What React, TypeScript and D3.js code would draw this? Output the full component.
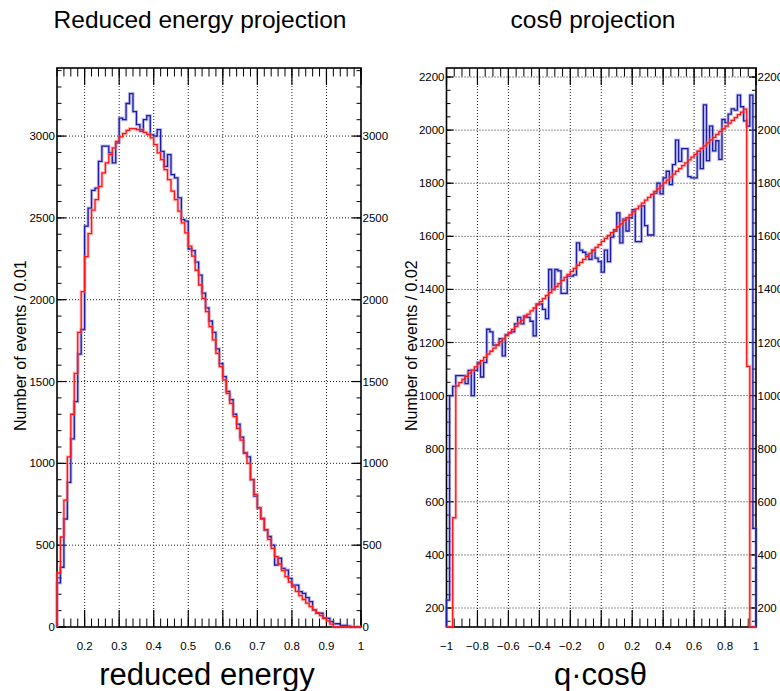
import React from 'react';
import * as d3 from 'd3';

const W = 780;
const H = 691;
const FONT = "'Liberation Sans', Arial, Helvetica, sans-serif";

// ---------- Left panel: reduced energy ----------
const energyMin = 0.12;
const energyMax = 1.0;
const energyBinWidth = 0.01;
const energyYMax = 3416;
const energyData = [
  270, 365, 660, 884, 1150, 1377, 1668, 1818, 2450, 2560,
  2668, 2682, 2846, 2938, 2938, 2897, 2836, 2958, 3110, 3100,
  3199, 3260, 3150, 3070, 3030, 3100, 3125, 3007, 3000, 3040,
  2907, 2815, 2887, 2765, 2744, 2622, 2490, 2480, 2310, 2300,
  2230, 2150, 2040, 1950, 1870, 1800, 1700, 1610, 1530, 1440,
  1390, 1300, 1240, 1160, 1065, 1040, 900, 800, 727, 664,
  592, 553, 500, 379, 420, 358, 348, 297, 256, 256,
  216, 206, 180, 155, 104, 84, 84, 53, 53, 33,
  20, 20, 10, 10, 5, 0, 0, 0,
];
const energyFit = [
  330, 550, 775, 1040, 1300, 1550, 1800, 2050, 2263, 2404,
  2548, 2612, 2693, 2775, 2836, 2887, 2928, 2968, 2995, 3015,
  3035, 3045, 3045, 3040, 3040, 3023, 3010, 2989, 2948, 2897,
  2856, 2795, 2734, 2663, 2612, 2541, 2470, 2409, 2327, 2266,
  2180, 2090, 2008, 1927, 1835, 1754, 1672, 1591, 1510, 1428,
  1367, 1285, 1214, 1142, 1061, 1000, 900, 810, 730, 660,
  595, 535, 480, 430, 385, 345, 308, 275, 245, 218,
  192, 168, 146, 125, 105, 87, 70, 55, 38, 18,
  0, 0, 0, 0, 0, 0, 0, 0,
];
const energyXTicks = [0.2, 0.3, 0.4, 0.5, 0.6, 0.7, 0.8, 0.9, 1.0];
const energyXTickLabels = ['0.2', '0.3', '0.4', '0.5', '0.6', '0.7', '0.8', '0.9', '1'];
const energyYTicks = [0, 500, 1000, 1500, 2000, 2500, 3000];
const energyYTickLabels = ['0', '500', '1000', '1500', '2000', '2500', '3000'];

// ---------- Right panel: cos theta ----------
const cosMin = -1;
const cosMax = 1;
const cosBinWidth = 0.02;
const cosYMin = 128.4;
const cosYMax = 2234;
const cosData = [
  230, 1000, 1035, 1075, 1075, 1075, 1045, 1095, 1000, 1095,
  1125, 1070, 1125, 1250, 1240, 1190, 1190, 1215, 1150, 1230,
  1235, 1240, 1270, 1295, 1270, 1300, 1295, 1280, 1225, 1345,
  1345, 1325, 1290, 1475, 1400, 1475, 1470, 1385, 1385, 1450,
  1450, 1455, 1575, 1548, 1540, 1530, 1513, 1548, 1518, 1505,
  1465, 1548, 1505, 1597, 1620, 1688, 1575, 1665, 1620, 1670,
  1700, 1580, 1580, 1715, 1640, 1605, 1605, 1763, 1800, 1760,
  1820, 1845, 1795, 1870, 1962, 1882, 1930, 1930, 1825, 1820,
  1820, 1920, 1855, 2095, 1885, 2015, 1922, 1960, 1890, 2040,
  2028, 2060, 2080, 2075, 2132, 2088, 2035, 2015, 2132, 500,
];
const cosFit = [
  0, 0, 540, 1037, 1049, 1061, 1073, 1085, 1096, 1108,
  1120, 1132, 1144, 1156, 1167, 1179, 1191, 1203, 1214, 1226,
  1238, 1249, 1261, 1273, 1284, 1296, 1307, 1319, 1330, 1342,
  1354, 1365, 1377, 1388, 1399, 1411, 1422, 1434, 1445, 1457,
  1468, 1479, 1491, 1502, 1513, 1524, 1536, 1547, 1558, 1569,
  1581, 1592, 1603, 1614, 1625, 1636, 1647, 1659, 1670, 1681,
  1692, 1703, 1714, 1725, 1736, 1747, 1758, 1769, 1779, 1790,
  1801, 1812, 1823, 1834, 1845, 1855, 1866, 1877, 1888, 1898,
  1909, 1920, 1931, 1941, 1952, 1963, 1973, 1984, 1994, 2005,
  2015, 2026, 2037, 2047, 2058, 2068, 2079, 1110, 0, 0,
];
const cosXTicks = [-1, -0.8, -0.6, -0.4, -0.2, 0, 0.2, 0.4, 0.6, 0.8, 1];
const cosXTickLabels = ['\u22121', '\u22120.8', '\u22120.6', '\u22120.4', '\u22120.2', '0', '0.2', '0.4', '0.6', '0.8', '1'];
const cosYTicks = [200, 400, 600, 800, 1000, 1200, 1400, 1600, 1800, 2000, 2200];
const cosYTickLabels = ['200', '400', '600', '800', '1000', '1200', '1400', '1600', '1800', '2000', '2200'];

type PanelProps = {
  x0: number; x1: number; y0: number; y1: number;
  xDomain: [number, number]; yDomain: [number, number];
  xTicks: number[]; xTickLabels: string[]; xMinorStep: number;
  yTicks: number[]; yTickLabels: string[]; yMinorStep: number;
  yMajorLen: number; yMinorLen: number;
  data: number[]; fit: number[]; binMin: number; binWidth: number;
  title: string; titleX: number;
  xTitle: string; xTitleX: number;
  yTitle: string; yTitleX: number;
};

function stepPath(vals: number[], binMin: number, bw: number, x: any, y: any, yBase: number) {
  const pts: [number, number][] = [];
  pts.push([x(binMin), yBase]);
  vals.forEach((v, i) => pts.push([x(binMin + i * bw), y(v)]));
  const xEnd = x(binMin + vals.length * bw);
  pts.push([xEnd, y(vals[vals.length - 1])]);
  pts.push([xEnd, yBase]);
  let d = `M${pts[0][0]},${pts[0][1]}`;
  d += `L${pts[1][0]},${pts[1][1]}`;
  for (let i = 2; i < pts.length - 1; i++) {
    d += `L${pts[i][0]},${pts[i - 1][1]}L${pts[i][0]},${pts[i][1]}`;
  }
  d += `L${pts[pts.length - 1][0]},${pts[pts.length - 1][1]}`;
  return d;
}

function Panel(p: PanelProps) {
  const x = d3.scaleLinear().domain(p.xDomain).range([p.x0, p.x1]);
  const y = d3.scaleLinear().domain(p.yDomain).range([p.y1, p.y0]).clamp(true);
  const eps = 1e-9;
  const xMinor = d3.range(Math.ceil(p.xDomain[0] / p.xMinorStep - eps) * p.xMinorStep, p.xDomain[1] + eps, p.xMinorStep)
    .filter((v) => v >= p.xDomain[0] - eps && v <= p.xDomain[1] + eps);
  const yMinor = d3.range(Math.ceil(p.yDomain[0] / p.yMinorStep - eps) * p.yMinorStep, p.yDomain[1] + eps, p.yMinorStep)
    .filter((v) => v >= p.yDomain[0] - eps && v <= p.yDomain[1] + eps);
  const xMajLen = 17;
  const xMinLen = 8.5;
  const gridX = p.xTicks.filter((v) => x(v) > p.x0 + 2 && x(v) < p.x1 - 2);
  const gridY = p.yTicks.filter((v) => y(v) > p.y0 + 2 && y(v) < p.y1 - 2);
  const base = p.y1;
  const dData = stepPath(p.data, p.binMin, p.binWidth, x, y, base);
  const dFit = stepPath(p.fit, p.binMin, p.binWidth, x, y, base);
  return (
    <g>
      <text x={p.titleX} y={27.5} fontSize={24.5} textAnchor="middle" fontFamily={FONT} fill="#000">{p.title}</text>
      {gridX.map((v, i) => (
        <line key={'gx' + i} x1={x(v)} x2={x(v)} y1={p.y0} y2={p.y1} stroke="#222" strokeWidth={1} strokeDasharray="1 2" />
      ))}
      {gridY.map((v, i) => (
        <line key={'gy' + i} x1={p.x0} x2={p.x1} y1={y(v)} y2={y(v)} stroke="#222" strokeWidth={1} strokeDasharray="1 2" />
      ))}
      <rect x={p.x0} y={p.y0} width={p.x1 - p.x0} height={p.y1 - p.y0} fill="none" stroke="#000" strokeWidth={1.6} />
      {xMinor.map((v, i) => (
        <g key={'xm' + i}>
          <line x1={x(v)} x2={x(v)} y1={p.y1} y2={p.y1 - xMinLen} stroke="#000" strokeWidth={1} />
          <line x1={x(v)} x2={x(v)} y1={p.y0} y2={p.y0 + xMinLen} stroke="#000" strokeWidth={1} />
        </g>
      ))}
      {p.xTicks.map((v, i) => (
        <g key={'xM' + i}>
          <line x1={x(v)} x2={x(v)} y1={p.y1} y2={p.y1 - xMajLen} stroke="#000" strokeWidth={1.2} />
          <line x1={x(v)} x2={x(v)} y1={p.y0} y2={p.y0 + xMajLen} stroke="#000" strokeWidth={1.2} />
          <text x={x(v)} y={650} fontSize={11.5} textAnchor="middle" fontFamily={FONT} fill="#000">{p.xTickLabels[i]}</text>
        </g>
      ))}
      {yMinor.map((v, i) => (
        <g key={'ym' + i}>
          <line x1={p.x0} x2={p.x0 + p.yMinorLen} y1={y(v)} y2={y(v)} stroke="#000" strokeWidth={1} />
          <line x1={p.x1} x2={p.x1 - p.yMinorLen} y1={y(v)} y2={y(v)} stroke="#000" strokeWidth={1} />
        </g>
      ))}
      {p.yTicks.map((v, i) => (
        <g key={'yM' + i}>
          <line x1={p.x0} x2={p.x0 + p.yMajorLen} y1={y(v)} y2={y(v)} stroke="#000" strokeWidth={1.2} />
          <line x1={p.x1} x2={p.x1 - p.yMajorLen} y1={y(v)} y2={y(v)} stroke="#000" strokeWidth={1.2} />
          <text x={p.x0 - 2} y={y(v) + 4} fontSize={11.5} textAnchor="end" fontFamily={FONT} fill="#000">{p.yTickLabels[i]}</text>
          <text x={p.x1 + 1.5} y={y(v) + 4} fontSize={11.5} textAnchor="start" fontFamily={FONT} fill="#000">{p.yTickLabels[i]}</text>
        </g>
      ))}
      <path d={dData} fill="none" stroke="#7070d8" strokeOpacity={0.45} strokeWidth={3.2} />
      <path d={dData} fill="none" stroke="#1c1ca8" strokeWidth={1.3} />
      <path d={dFit} fill="none" stroke="#ff7070" strokeOpacity={0.45} strokeWidth={3.2} />
      <path d={dFit} fill="none" stroke="#ff1414" strokeWidth={1.3} />
      <text x={p.xTitleX} y={685} fontSize={31} textAnchor="middle" fontFamily={FONT} fill="#000">{p.xTitle}</text>
      <text transform={`translate(${p.yTitleX},431) rotate(-90)`} fontSize={16} textAnchor="start" fontFamily={FONT} fill="#000">{p.yTitle}</text>
    </g>
  );
}

export default function App() {
  return (
    <svg width={W} height={H} viewBox={`0 0 ${W} ${H}`} style={{ display: 'block', position: 'absolute', left: 0, top: 0, background: '#fff' }}>
      <rect x={0} y={0} width={W} height={H} fill="#fff" />
      <Panel
        x0={57} x1={361} y0={68} y1={627}
        xDomain={[energyMin, energyMax]} yDomain={[0, energyYMax]}
        xTicks={energyXTicks} xTickLabels={energyXTickLabels} xMinorStep={0.02}
        yTicks={energyYTicks} yTickLabels={energyYTickLabels} yMinorStep={100}
        yMajorLen={9} yMinorLen={4.5}
        data={energyData} fit={energyFit} binMin={energyMin} binWidth={energyBinWidth}
        title="Reduced energy projection" titleX={200}
        xTitle="reduced energy" xTitleX={207}
        yTitle="Number of events / 0.01" yTitleX={25.5}
      />
      <Panel
        x0={446.5} x1={756} y0={68} y1={627}
        xDomain={[cosMin, cosMax]} yDomain={[cosYMin, cosYMax]}
        xTicks={cosXTicks} xTickLabels={cosXTickLabels} xMinorStep={0.05}
        yTicks={cosYTicks} yTickLabels={cosYTickLabels} yMinorStep={50}
        yMajorLen={7} yMinorLen={4}
        data={cosData} fit={cosFit} binMin={cosMin} binWidth={cosBinWidth}
        title={'cos\u03b8 projection'} titleX={593}
        xTitle={'q\u00b7cos\u03b8'} xTitleX={600.5}
        yTitle="Number of events / 0.02" yTitleX={416.5}
      />
    </svg>
  );
}
